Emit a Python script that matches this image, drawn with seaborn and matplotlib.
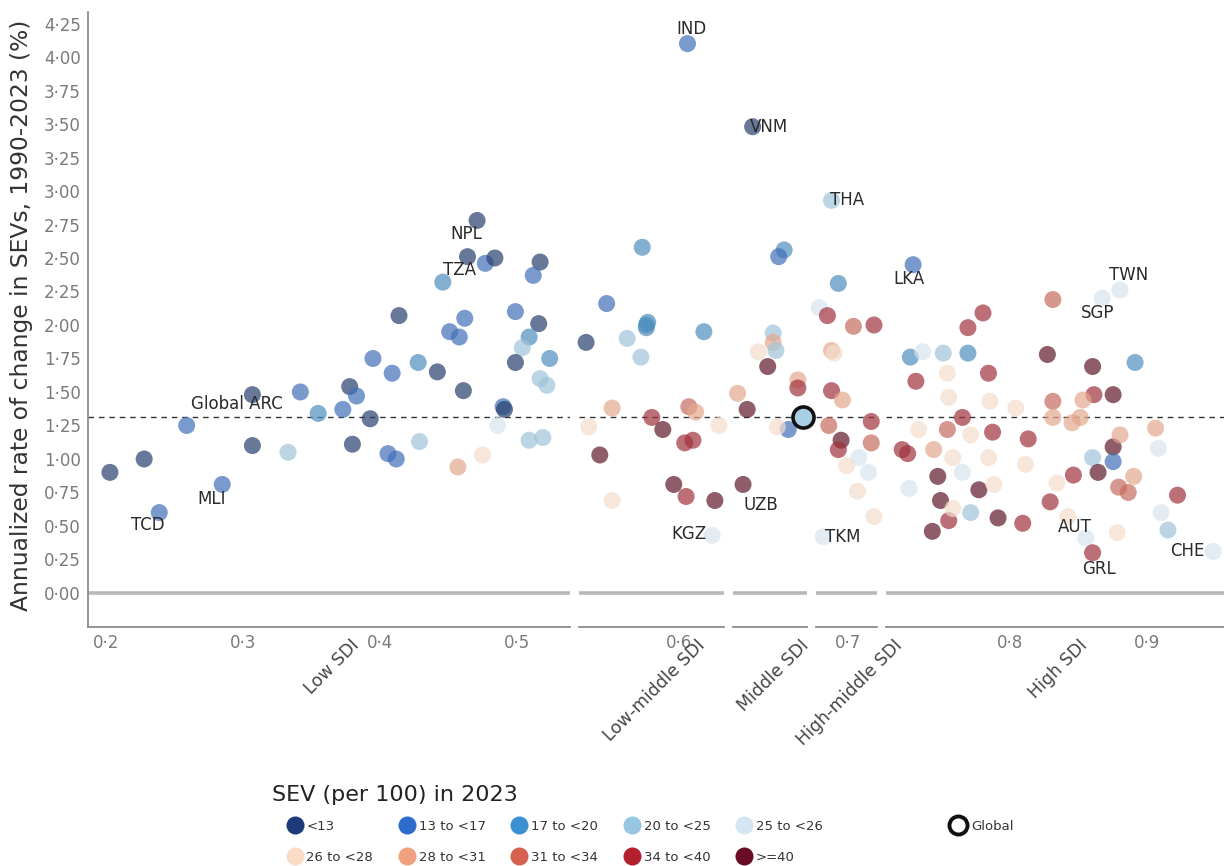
# sev_arc_sdi.py
# Annualised rate of change in SEVs vs SDI, split into SDI quintile panels

import matplotlib
matplotlib.use("Agg")
import matplotlib.pyplot as plt
import seaborn as sns
import numpy as np
import pandas as pd
from matplotlib.lines import Line2D
from matplotlib.ticker import FuncFormatter

# --- DATA ---
sev_labels = ["<13", "13 to <17", "17 to <20", "20 to <25", "25 to <26",
              "26 to <28", "28 to <31", "31 to <34", "34 to <40", ">=40"]
sev_colors = ["#1d3b78", "#2e6ccc", "#3b91d0", "#96c6e2", "#d3e6f1",
              "#fbdcc7", "#f2a17e", "#d6604d", "#b41f2e", "#6a0d23"]
sdi_groups = ["Low SDI", "Low-middle SDI", "Middle SDI", "High-middle SDI", "High SDI"]

# Low SDI
sdi_low = [0.203, 0.228, 0.239, 0.259, 0.285, 0.307, 0.307, 0.333, 0.342, 0.355,
           0.373, 0.378, 0.383, 0.393, 0.380, 0.395, 0.409, 0.406, 0.412, 0.414,
           0.428, 0.429, 0.442, 0.446, 0.451, 0.458, 0.462, 0.461, 0.457, 0.471,
           0.464, 0.477, 0.484, 0.517, 0.512, 0.499, 0.516, 0.509, 0.504, 0.499,
           0.524, 0.517, 0.522, 0.490, 0.491, 0.486, 0.509, 0.519, 0.475]
arc_low = [0.90, 1.00, 0.60, 1.25, 0.81, 1.48, 1.10, 1.05, 1.50, 1.34,
           1.37, 1.54, 1.47, 1.30, 1.11, 1.75, 1.64, 1.04, 1.00, 2.07,
           1.72, 1.13, 1.65, 2.32, 1.95, 1.91, 2.05, 1.51, 0.94, 2.78,
           2.51, 2.46, 2.50, 2.47, 2.37, 2.10, 2.01, 1.91, 1.83, 1.72,
           1.75, 1.60, 1.55, 1.39, 1.37, 1.25, 1.14, 1.16, 1.03]
sev_low = [0, 0, 1, 1, 1, 0, 0, 3, 1, 2,
           1, 0, 1, 0, 0, 1, 1, 1, 1, 0,
           2, 3, 0, 2, 1, 1, 1, 0, 6, 0,
           0, 1, 0, 0, 1, 1, 0, 2, 3, 0,
           2, 3, 3, 1, 0, 4, 3, 3, 5]

# Low-middle SDI
sdi_lowmid = [0.547, 0.573, 0.532, 0.562, 0.576, 0.577, 0.576, 0.572, 0.618, 0.551,
              0.534, 0.542, 0.551, 0.580, 0.588, 0.604, 0.610, 0.607, 0.612, 0.596,
              0.605, 0.626, 0.624, 0.629, 0.606]
arc_lowmid = [2.16, 2.58, 1.87, 1.90, 2.00, 2.02, 1.98, 1.76, 1.95, 1.38,
              1.24, 1.03, 0.69, 1.31, 1.22, 1.12, 1.14, 1.39, 1.35, 0.81,
              0.72, 0.69, 0.43, 1.25, 4.10]
sev_lowmid = [1, 2, 0, 3, 2, 2, 2, 3, 2, 6,
              5, 9, 5, 8, 9, 8, 8, 7, 6, 9,
              8, 9, 4, 5, 1]

# Middle SDI
sdi_mid = [0.642, 0.665, 0.661, 0.631, 0.638, 0.635, 0.653, 0.657, 0.657, 0.659,
           0.646, 0.675, 0.675, 0.668, 0.660]
arc_mid = [3.48, 2.56, 2.51, 1.49, 1.37, 0.81, 1.69, 1.94, 1.87, 1.81,
           1.80, 1.59, 1.53, 1.22, 1.24]
sev_mid = [0, 2, 1, 6, 9, 9, 9, 3, 6, 3,
           5, 6, 8, 1, 5]

# High-middle SDI
sdi_highmid = [0.688, 0.693, 0.679, 0.685, 0.704, 0.719, 0.688, 0.690, 0.688, 0.696,
               0.686, 0.717, 0.695, 0.693, 0.699, 0.708, 0.717, 0.715, 0.707, 0.719,
               0.682]
arc_highmid = [2.93, 2.31, 2.13, 2.07, 1.99, 2.00, 1.81, 1.79, 1.51, 1.44,
               1.25, 1.28, 1.14, 1.07, 0.95, 1.01, 1.12, 0.90, 0.76, 0.57,
               0.42]
sev_highmid = [3, 2, 4, 8, 7, 8, 6, 5, 8, 6,
               7, 8, 9, 8, 5, 4, 7, 4, 5, 5,
               4]

# High SDI
sdi_high = [0.729, 0.727, 0.736, 0.751, 0.769, 0.731, 0.754, 0.755, 0.769, 0.780,
            0.784, 0.785, 0.765, 0.754, 0.771, 0.733, 0.721, 0.725, 0.744, 0.758,
            0.747, 0.749, 0.755, 0.743, 0.777, 0.788, 0.771, 0.791, 0.787, 0.784,
            0.809, 0.813, 0.811, 0.804, 0.827, 0.831, 0.831, 0.831, 0.829, 0.846,
            0.834, 0.845, 0.851, 0.860, 0.861, 0.875, 0.853, 0.860, 0.864, 0.875,
            0.875, 0.880, 0.879, 0.886, 0.890, 0.891, 0.906, 0.908, 0.922, 0.910,
            0.915, 0.948, 0.855, 0.860, 0.878, 0.842, 0.867, 0.880, 0.726, 0.758,
            0.765]
arc_high = [2.45, 1.76, 1.80, 1.79, 1.79, 1.58, 1.64, 1.46, 1.98, 2.09,
            1.64, 1.43, 1.31, 1.22, 1.18, 1.22, 1.07, 1.04, 1.07, 1.01,
            0.87, 0.69, 0.54, 0.46, 0.77, 0.81, 0.60, 0.56, 1.20, 1.01,
            0.52, 1.15, 0.96, 1.38, 1.78, 1.43, 1.31, 2.19, 0.68, 0.88,
            0.82, 1.27, 1.31, 1.69, 1.48, 1.48, 1.44, 1.01, 0.90, 1.09,
            0.98, 1.18, 0.79, 0.75, 0.87, 1.72, 1.23, 1.08, 0.73, 0.60,
            0.47, 0.31, 0.41, 0.30, 0.45, 0.57, 2.20, 2.26, 0.78, 0.63,
            0.90]
sev_high = [1, 2, 4, 3, 2, 8, 5, 5, 8, 8,
            8, 5, 8, 7, 5, 5, 8, 8, 6, 5,
            9, 9, 8, 9, 9, 5, 3, 9, 8, 5,
            8, 8, 5, 5, 9, 7, 6, 7, 8, 8,
            5, 6, 6, 9, 8, 9, 6, 3, 9, 9,
            1, 6, 7, 7, 6, 2, 6, 4, 8, 4,
            3, 4, 4, 8, 5, 5, 4, 4, 4, 5,
            4]

global_sdi = 0.679
global_arc = 1.31

# country labels (text positions) and the panel each sits in
label_text = ["TCD", "MLI", "NPL", "TZA", "IND", "KGZ", "VNM", "UZB",
              "THA", "TKM", "LKA", "TWN", "SGP", "AUT", "GRL", "CHE"]
label_sdi = [0.231, 0.277, 0.463, 0.458, 0.609, 0.607, 0.654, 0.648,
             0.699, 0.696, 0.726, 0.886, 0.864, 0.847, 0.865, 0.929]
label_arc = [0.51, 0.70, 2.68, 2.41, 4.21, 0.44, 3.48, 0.66,
             2.93, 0.42, 2.34, 2.37, 2.09, 0.49, 0.18, 0.31]
label_panel = [0, 0, 0, 0, 1, 1, 2, 2, 3, 3, 4, 4, 4, 4, 4, 4]

panel_xlims = [(0.187, 0.539), (0.527, 0.633), (0.628, 0.682), (0.677, 0.721), (0.709, 0.956)]

frames = []
for grp, xs, ys, cs in zip(sdi_groups,
                           [sdi_low, sdi_lowmid, sdi_mid, sdi_highmid, sdi_high],
                           [arc_low, arc_lowmid, arc_mid, arc_highmid, arc_high],
                           [sev_low, sev_lowmid, sev_mid, sev_highmid, sev_high]):
    frames.append(pd.DataFrame({"sdi": xs, "arc": ys,
                                "sev": [sev_labels[c] for c in cs], "group": grp}))
df = pd.concat(frames, ignore_index=True)

# --- PLOT ---
sns.set_style("white")
plt.rcParams["font.family"] = ["DejaVu Sans"]

W, H = 1224, 866
fig = plt.figure(figsize=(W / 100, H / 100), dpi=100)
px_per_unit = 1370
left_px, gap_px = 88, 9
ax_bottom = 1 - 627 / H
ax_height = 615 / H
# points in the panels are a bit greyer than the legend keys
palette = {lab: sns.desaturate(c, 0.75) for lab, c in zip(sev_labels, sev_colors)}

fmt = FuncFormatter(lambda v, p: f"{v:.2f}".replace(".", "\u00b7"))
xfmt = FuncFormatter(lambda v, p: (f"{v:.1f}".replace(".", "\u00b7")
                                   if round(v * 20) % 2 == 0 else ""))

x0 = left_px
axes = []
for i, grp in enumerate(sdi_groups):
    lo, hi = panel_xlims[i]
    w = (hi - lo) * px_per_unit
    ax = fig.add_axes([x0 / W, ax_bottom, w / W, ax_height])
    axes.append(ax)

    ax.axhline(0, color="#b8b8b8", lw=2.6, zorder=1)
    ax.axhline(global_arc, color="#333333", lw=1.0, ls=(0, (4, 3.5)), zorder=1)

    sub = df[df["group"] == grp]
    sns.scatterplot(data=sub, x="sdi", y="arc", hue="sev", hue_order=sev_labels,
                    palette=palette, s=150, alpha=0.7, linewidth=0,
                    legend=False, ax=ax, zorder=3, clip_on=False)

    ax.set_xlim(lo, hi)
    ax.set_ylim(-0.254, 4.336)
    ticks = [t for t in np.round(np.arange(0.15, 1.0, 0.05), 2) if lo <= t <= hi]
    ax.set_xticks(ticks)
    ax.xaxis.set_major_formatter(xfmt)
    ax.set_xlabel("")
    ax.set_ylabel("")
    for s in ["top", "right", "left"]:
        ax.spines[s].set_visible(False)
    ax.spines["bottom"].set_color("#8c8c8c")
    ax.spines["bottom"].set_linewidth(1.3)
    ax.tick_params(axis="x", length=3, color="#8c8c8c", labelcolor="#7a7a7a",
                   labelsize=12, pad=2)
    if i == 0:
        ax.spines["left"].set_visible(True)
        ax.spines["left"].set_color("#8c8c8c")
        ax.spines["left"].set_linewidth(1.3)
        ax.set_yticks(np.arange(0, 4.26, 0.25))
        ax.yaxis.set_major_formatter(fmt)
        ax.tick_params(axis="y", length=3, color="#8c8c8c", labelcolor="#7a7a7a",
                       labelsize=12, pad=2)
    else:
        ax.tick_params(axis="y", left=False, labelleft=False)

    # SDI group label under each panel
    fig.text((x0 + w / 2 + 3) / W, 1 - 636 / H, grp, rotation=45, ha="center",
             va="top", fontsize=12.5, color="#444444")
    x0 += w + gap_px

# global point
axes[2].scatter([global_sdi], [global_arc], s=230, facecolor="#a9cfe5",
                edgecolor="#111111", linewidth=2.6, zorder=5, clip_on=False)

# annotations
for txt, xv, yv, pi in zip(label_text, label_sdi, label_arc, label_panel):
    axes[pi].text(xv, yv, txt, ha="center", va="center", fontsize=12,
                  color="#2a2a2a", zorder=6)
axes[0].text(0.296, 1.41, "Global ARC", ha="center", va="center", fontsize=12,
             color="#2a2a2a", zorder=6)

fig.text(22 / W, 1 - 315 / H, "Annualized rate of change in SEVs, 1990-2023 (%)",
         rotation=90, ha="center", va="center", fontsize=16.8, color="#333333")

# legend title drawn on its own so the keys can be indented as in the original
fig.text(272 / W, 1 - 795 / H, "SEV (per 100) in 2023", ha="left", va="center",
         fontsize=16, color="#222222")

# legend (row-wise order for ncol=5)
handles = [Line2D([], [], marker="o", ls="", markersize=13, markerfacecolor=c,
                  markeredgewidth=0) for c in sev_colors]
order = [0, 5, 1, 6, 2, 7, 3, 8, 4, 9]
leg = fig.legend([handles[k] for k in order], [sev_labels[k] for k in order],
                 ncol=5, loc="center left", bbox_to_anchor=(288 / W, 1 - 842 / H),
                 frameon=False, fontsize=9.5, handlelength=1.0, handletextpad=0.4,
                 columnspacing=2.05, labelspacing=1.35, borderpad=0, borderaxespad=0)
for t in leg.get_texts():
    t.set_color("#333333")

g_handle = Line2D([], [], marker="o", ls="", markersize=13, markerfacecolor="white",
                  markeredgecolor="#111111", markeredgewidth=2.8)
leg2 = fig.legend([g_handle], ["Global"], loc="center left",
                  bbox_to_anchor=(951 / W, 1 - 826 / H), frameon=False,
                  fontsize=9.5, handlelength=1.0, handletextpad=0.5,
                  borderpad=0, borderaxespad=0)
leg2.get_texts()[0].set_color("#333333")

fig.savefig("out.png", dpi=100)
